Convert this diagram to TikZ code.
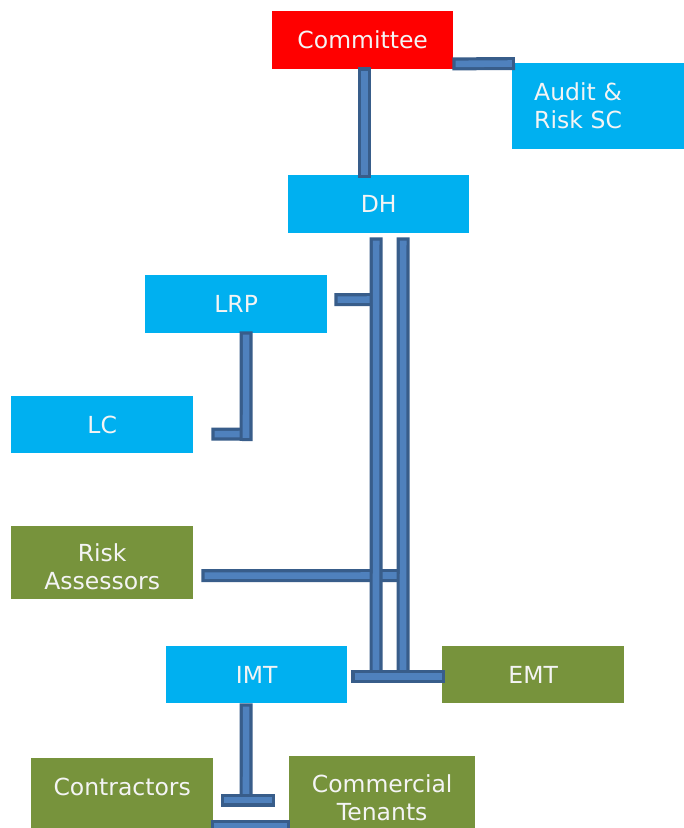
\documentclass[tikz,border=0pt]{standalone}
\usepackage{fontspec}
\setmainfont{DejaVu Sans}
\definecolor{cred}{HTML}{FF0000}
\definecolor{ccyan}{HTML}{00B0F0}
\definecolor{cgreen}{HTML}{77933C}
\definecolor{couter}{HTML}{385D8A}
\definecolor{cinner}{HTML}{4F81BD}
\definecolor{ctext}{HTML}{F4F4F4}
\begin{document}
\begin{tikzpicture}[x=1pt,y=-1pt,
  box/.style={anchor=north west, inner sep=0pt, text=ctext,
    font=\fontsize{23.5}{28}\selectfont, align=center,
    minimum height=58pt, minimum width=181pt},
  redbox/.style={box, fill=cred},
  bluebox/.style={box, fill=ccyan},
  greenbox/.style={box, fill=cgreen},
  conn/.style={draw=couter, line width=13pt, line cap=butt,
    postaction={draw=cinner, line width=6.6pt, shorten <=3.2pt, shorten >=3.2pt}}
]
\useasboundingbox (0,0) rectangle (684,828);
\fill[white] (0,0) rectangle (684,828);

% boxes
\node[redbox] (committee) at (272,11) {Committee};
\node[bluebox, align=left, text width=150pt, inner xsep=22pt, minimum height=86pt] (audit) at (512,63) {Audit \&\\Risk SC};
\node[bluebox] (dh) at (288,175) {DH};
\node[bluebox, minimum width=182pt] (lrp) at (145,275) {LRP};
\node[bluebox, minimum width=182pt, minimum height=57pt] (lc) at (11,396) {LC};
\node[greenbox, minimum width=182pt, minimum height=73pt] (risk) at (11,526) {\rule{0pt}{26pt}Risk\\Assessors};
\node[bluebox, minimum height=57pt] (imt) at (166,646) {IMT};
\node[greenbox, minimum width=182pt, minimum height=57pt] (emt) at (442,646) {EMT};
\node[greenbox, minimum width=182pt, minimum height=0pt, text height=37pt, text depth=70pt] (contractors) at (31,758) {Contractors};
\node[greenbox, minimum width=186pt, minimum height=83pt] (tenants) at (289,756) {Commercial\\Tenants};

% junction coordinates
\coordinate (jLrp) at (376,299.5);
\coordinate (jRisk) at (403,575.5);
\coordinate (jLbot) at (376,676);
\coordinate (jRbot) at (403,676);
\coordinate (cLC) at (246,434);
\coordinate (cLCb) at (246,441);
\coordinate (cT) at (246,800);
\coordinate (tL) at (221,800);
\coordinate (tR) at (275,800);
\coordinate (bL) at (211,826);
\coordinate (bR) at (290,826);

% connectors
\draw[conn] ([xshift=1.5pt,yshift=2pt]committee.south) -- ([xshift=-14.5pt,yshift=-3pt]dh.north);
\draw[conn] ([xshift=-1pt,yshift=5.5pt]committee.south east) -- ([xshift=3pt,yshift=-0.5pt]audit.north west);
\draw[conn] ([xshift=7pt,yshift=4.5pt]lrp.east) -- (jLrp);
\draw[conn] ([xshift=8pt,yshift=-13pt]risk.east) -- (jRisk);
\draw[conn] ([xshift=-2.5pt,yshift=-4pt]dh.south) -- (jLbot);
\draw[conn] ([xshift=24.5pt,yshift=-4pt]dh.south) -- (jRbot);
\draw[conn] ([xshift=4pt,yshift=-1.5pt]imt.east) -- ([xshift=3pt,yshift=-1.5pt]emt.west);
\draw[conn] ([xshift=18pt,yshift=-9.5pt]lc.east) -- (cLC);
\draw[conn] ([xshift=10pt,yshift=2pt]lrp.south) -- (cLCb);
\draw[conn] ([xshift=-10.5pt]imt.south) -- (cT);
\draw[conn] (tL) -- (tR);
\draw[conn] (bL) -- (bR);
\end{tikzpicture}
\end{document}
